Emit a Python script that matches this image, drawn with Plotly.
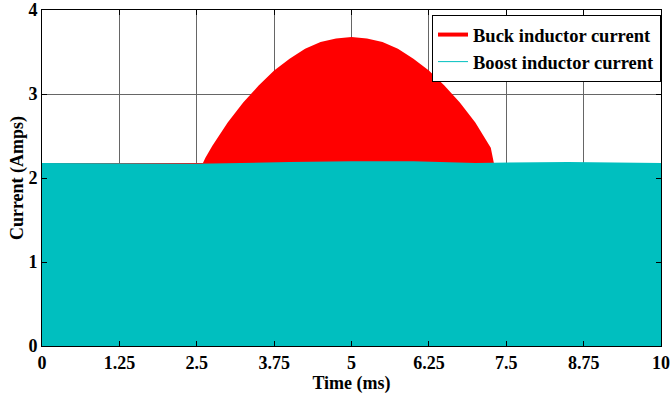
import plotly.graph_objects as go

# Buck inductor current envelope (A) vs time (ms)
buck_t = [0.0, 2.6, 2.64, 2.75, 3.0, 3.25, 3.5, 3.75, 4.0, 4.25, 4.5, 4.75, 5.0,
          5.25, 5.5, 5.75, 6.0, 6.25, 6.5, 6.75, 7.0, 7.25, 7.3, 10.0]
buck_i = [2.18, 2.18, 2.24, 2.38, 2.66, 2.90, 3.10, 3.28, 3.42, 3.54, 3.62, 3.66, 3.68,
          3.66, 3.62, 3.54, 3.42, 3.28, 3.10, 2.90, 2.66, 2.36, 2.18, 2.18]

# Boost inductor current envelope (A) vs time (ms)
boost_t = [0.0, 2.5, 4.0, 5.0, 6.0, 7.0, 8.5, 10.0]
boost_i = [2.18, 2.17, 2.19, 2.20, 2.20, 2.18, 2.19, 2.18]

x_ticks = [0, 1.25, 2.5, 3.75, 5, 6.25, 7.5, 8.75, 10]
x_tick_text = ["0", "1.25", "2.5", "3.75", "5", "6.25", "7.5", "8.75", "10"]
y_ticks = [0, 1, 2, 3, 4]

RED = "#ff0000"
CYAN = "#00bfbf"
FONT = "Liberation Serif"

fig = go.Figure()
fig.add_trace(go.Scatter(x=buck_t, y=buck_i, mode="lines", line=dict(color=RED, width=0),
                         fill="tozeroy", fillcolor=RED, showlegend=False, hoverinfo="skip"))
fig.add_trace(go.Scatter(x=boost_t, y=boost_i, mode="lines", line=dict(color=CYAN, width=0),
                         fill="tozeroy", fillcolor=CYAN, showlegend=False, hoverinfo="skip"))
# legend entries
fig.add_trace(go.Scatter(x=[None], y=[None], mode="lines", line=dict(color=RED, width=4),
                         name="<b>Buck inductor current</b>"))
fig.add_trace(go.Scatter(x=[None], y=[None], mode="lines", line=dict(color=CYAN, width=1),
                         name="<b>Boost inductor current</b>"))

axis_common = dict(showline=True, linecolor="black", linewidth=1, mirror="ticks",
                   ticks="inside", ticklen=5, tickcolor="black", automargin=False,
                   showgrid=True, gridcolor="#666666", gridwidth=1, zeroline=False,
                   tickfont=dict(family=FONT, size=18, color="black"))

fig.update_xaxes(range=[0, 10], tickvals=x_ticks, ticktext=["<b>%s</b>" % t for t in x_tick_text],
                 title=dict(text="<b>Time (ms)</b>", font=dict(family=FONT, size=18, color="black"), standoff=0),
                 **axis_common)
fig.update_yaxes(range=[0, 4], tickvals=y_ticks, ticktext=["<b>%d</b>" % v for v in y_ticks],
                 title=dict(text="<b>Current (Amps)</b>", font=dict(family=FONT, size=18, color="black"), standoff=0),
                 **axis_common)

fig.update_layout(
    width=671, height=395,
    margin=dict(l=42, r=10, t=10, b=49),
    plot_bgcolor="white", paper_bgcolor="white",
    legend=dict(x=1.0, y=0.985, xanchor="right", yanchor="top",
                bgcolor="white", bordercolor="black", borderwidth=1,
                font=dict(family=FONT, size=18.5, color="black"),
                itemwidth=30, tracegroupgap=0),
    showlegend=True,
)

fig.write_html("out.html", config={"displayModeBar": False},
               post_script="document.body.style.margin='0';document.body.style.overflow='hidden';")
